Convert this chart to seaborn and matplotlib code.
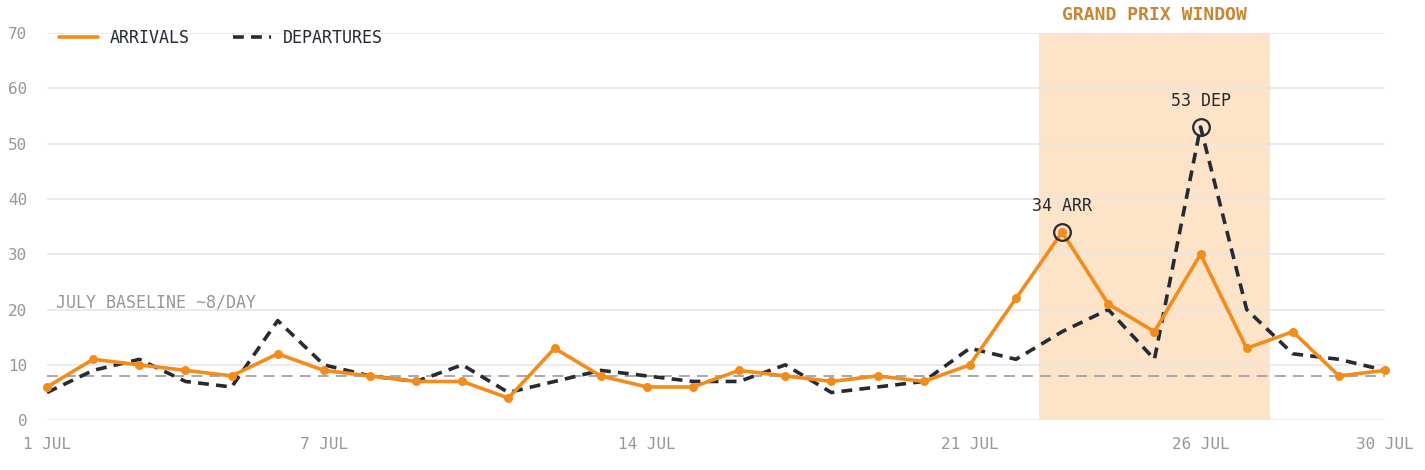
import matplotlib
matplotlib.use("Agg")
from matplotlib import pyplot as plt
import pandas as pd
import seaborn as sns

# daily movements, July
days = list(range(1, 31))
arrivals = [6, 11, 10, 9, 8, 12, 9, 8, 7, 7, 4, 13, 8, 6, 6,
            9, 8, 7, 8, 7, 10, 22, 34, 21, 16, 30, 13, 16, 8, 9]
departures = [5, 9, 11, 7, 6, 18, 10, 8, 7, 10, 5, 7, 9, 8, 7,
              7, 10, 5, 6, 7, 13, 11, 16, 20, 11, 53, 20, 12, 11, 9]
tick_days = [1, 7, 14, 21, 26, 30]
tick_labels = ["1 JUL", "7 JUL", "14 JUL", "21 JUL", "26 JUL", "30 JUL"]
baseline = 8
window = (22.5, 27.5)

ORANGE = "#f28c1c"
DARK = "#262a33"
GREY = "#979799"
MONO = "DejaVu Sans Mono"

sns.set_theme(style="white")
plt.rcParams["font.family"] = [MONO, "DejaVu Sans"]

df = pd.DataFrame({"day": days, "arr": arrivals, "dep": departures})

fig = plt.figure(figsize=(14.25, 4.7), dpi=100)
ax = fig.add_axes([0.033, 0.106, 0.939, 0.824])

ax.axvspan(*window, color="#fde4c8", lw=0, zorder=0)
ax.axhline(baseline, color="#a0a0a8", lw=1.3, ls=(0, (6, 4)), zorder=1)

sns.lineplot(data=df, x="day", y="dep", ax=ax, color=DARK, lw=2.6,
             label="DEPARTURES", zorder=3)
ax.lines[-1].set_linestyle((0, (3, 2)))
sns.lineplot(data=df, x="day", y="arr", ax=ax, color=ORANGE, lw=2.6,
             marker="o", markersize=6.5, markeredgewidth=0,
             label="ARRIVALS", zorder=4)
for ln in ax.lines:
    ln.set_clip_on(False)

# peak highlights
i_arr = arrivals.index(max(arrivals))
i_dep = departures.index(max(departures))
ax.plot(days[i_arr], arrivals[i_arr], "o", ms=12, mfc="none", mec=DARK, mew=1.6, zorder=5)
ax.plot(days[i_dep], departures[i_dep], "o", ms=12, mfc="none", mec=DARK, mew=1.6, zorder=5)
ax.annotate(f"{arrivals[i_arr]} ARR", (days[i_arr], arrivals[i_arr]), xytext=(0, 12),
            textcoords="offset points", ha="center", va="bottom", fontsize=12, color=DARK)
ax.annotate(f"{departures[i_dep]} DEP", (days[i_dep], departures[i_dep]), xytext=(0, 12),
            textcoords="offset points", ha="center", va="bottom", fontsize=12, color=DARK)

ax.text(1.2, 21.2, "JULY BASELINE ~8/DAY", fontsize=12, color=GREY, va="center", ha="left")
ax.text(sum(window) / 2, 73.2, "GRAND PRIX WINDOW", fontsize=13, color="#c98530",
        fontweight="bold", ha="center", va="center")

ax.set_xlim(1, 30)
ax.set_ylim(0, 70)
ax.set_yticks(range(0, 71, 10))
ax.set_xticks(tick_days)
ax.set_xticklabels(tick_labels)
ax.yaxis.grid(True, color="#e6e6e9", lw=1.1)
ax.xaxis.grid(False)
ax.tick_params(axis="both", length=0, labelsize=11.5, labelcolor=GREY)
ax.tick_params(axis="y", pad=14)
ax.tick_params(axis="x", pad=12)
ax.set_xlabel("")
ax.set_ylabel("")
sns.despine(ax=ax, left=True, bottom=True)

handles, labels = ax.get_legend_handles_labels()
order = [labels.index("ARRIVALS"), labels.index("DEPARTURES")]
leg = ax.legend([handles[i] for i in order], [labels[i] for i in order],
                loc="upper left", bbox_to_anchor=(-0.002, 1.05), ncol=2, frameon=False,
                fontsize=12, handlelength=2.3, columnspacing=2.6, handletextpad=0.7,
                labelcolor=DARK)
for h in leg.get_lines():
    h.set_marker("")

fig.savefig("out.png", dpi=100, facecolor="white")
